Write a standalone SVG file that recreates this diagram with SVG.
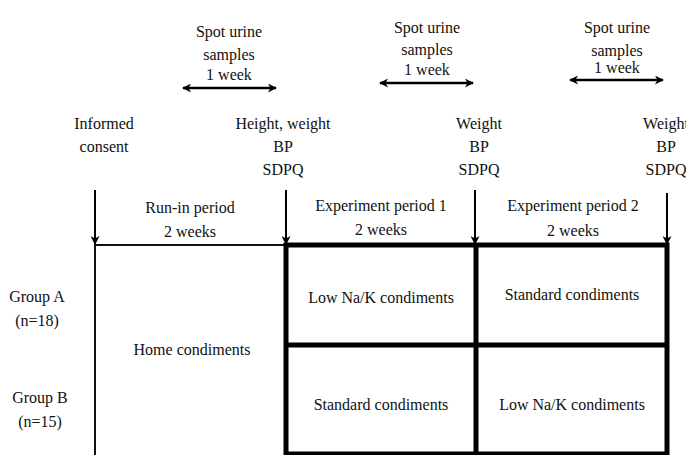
<svg xmlns="http://www.w3.org/2000/svg" width="686" height="455" viewBox="0 0 686 455" font-family="Liberation Serif, Times New Roman, serif">
<style>
text{font-size:16px;fill:#111;text-anchor:middle}
.thin{fill:none;stroke:#111;stroke-width:2}
.thick{fill:none;stroke:#000;stroke-width:5}
.arr{stroke:#000;stroke-width:2;fill:none}
.dbl{stroke:#000;stroke-width:2.5;fill:none}
</style>
<defs>
<marker id="ah" viewBox="0 0 10 10" refX="9" refY="5" markerWidth="10" markerHeight="9" markerUnits="userSpaceOnUse" orient="auto-start-reverse">
<path d="M0,0 L10,5 L0,10 L3,5 z" fill="#000"/>
</marker>
</defs>
<g id="urine1"><text x="229" y="37">Spot urine</text><text x="229" y="60">samples</text><text x="229" y="80">1 week</text></g>
<g id="urine2"><text x="427" y="33">Spot urine</text><text x="427" y="55">samples</text><text x="427" y="75">1 week</text></g>
<g id="urine3"><text x="617" y="33">Spot urine</text><text x="617" y="56">samples</text><text x="617" y="73">1 week</text></g>
<g id="consent"><text x="104" y="129">Informed</text><text x="104" y="152">consent</text></g>
<g id="measure0"><text x="283" y="129">Height, weight</text><text x="283" y="152">BP</text><text x="283" y="175">SDPQ</text></g>
<g id="measure1"><text x="479" y="129">Weight</text><text x="479" y="152">BP</text><text x="479" y="175">SDPQ</text></g>
<g id="measure2"><text x="666" y="129">Weight</text><text x="666" y="152">BP</text><text x="666" y="175">SDPQ</text></g>
<g id="runin"><text x="190" y="213">Run-in period</text><text x="190" y="237">2 weeks</text></g>
<g id="exp1"><text x="381" y="211">Experiment period 1</text><text x="381" y="235">2 weeks</text></g>
<g id="exp2"><text x="573" y="211">Experiment period 2</text><text x="573" y="236">2 weeks</text></g>
<g id="groupA"><text x="37" y="302">Group A</text><text x="37" y="326">(n=18)</text></g>
<g id="groupB"><text x="40" y="403">Group B</text><text x="40" y="427">(n=15)</text></g>
<g id="home"><path class="thin" d="M95,456 V245 H286"/><text x="192" y="355">Home condiments</text></g>
<g id="cells">
<rect class="thick" x="286" y="245" width="381" height="209"/>
<line class="thick" x1="286" y1="345" x2="667" y2="345"/>
<line class="thick" x1="476" y1="245" x2="476" y2="454"/>
</g>
<g id="cellA1"><text x="381" y="303">Low Na/K condiments</text></g>
<g id="cellA2"><text x="572" y="300">Standard condiments</text></g>
<g id="cellB1"><text x="381" y="410">Standard condiments</text></g>
<g id="cellB2"><text x="572" y="410">Low Na/K condiments</text></g>
<g id="connectors">
<line class="dbl" x1="183" y1="88" x2="276" y2="88" marker-start="url(#ah)" marker-end="url(#ah)"/>
<line class="dbl" x1="380" y1="83" x2="473" y2="83" marker-start="url(#ah)" marker-end="url(#ah)"/>
<line class="dbl" x1="570" y1="80" x2="663" y2="80" marker-start="url(#ah)" marker-end="url(#ah)"/>
<line class="arr" x1="95" y1="190" x2="95" y2="244" marker-end="url(#ah)"/>
<line class="arr" x1="286" y1="190" x2="286" y2="244" marker-end="url(#ah)"/>
<line class="arr" x1="475" y1="190" x2="475" y2="244" marker-end="url(#ah)"/>
<line class="arr" x1="667" y1="193" x2="667" y2="244" marker-end="url(#ah)"/>
</g>
</svg>
